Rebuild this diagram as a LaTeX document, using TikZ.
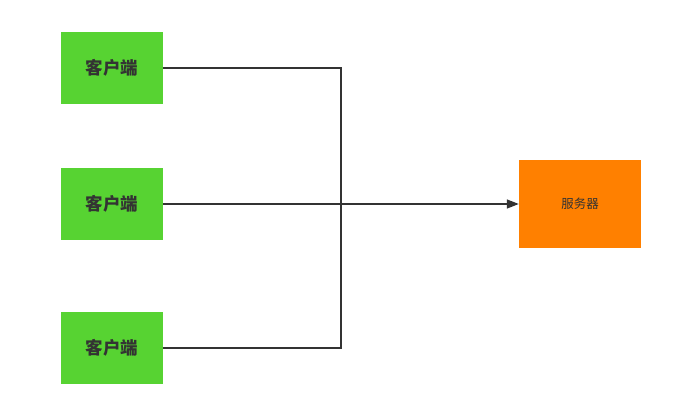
\documentclass[tikz,border=0pt]{standalone}
\usepackage{fontspec}
\newfontfamily\cjk{Noto Sans CJK SC}
\usetikzlibrary{arrows.meta}
\definecolor{cgreen}{HTML}{57D332}
\definecolor{corange}{HTML}{FF8000}
\definecolor{ctext}{HTML}{333333}
\begin{document}
\begin{tikzpicture}[x=1pt,y=-1pt,
  client/.style={fill=cgreen,draw=none,minimum width=102pt,minimum height=72pt,inner sep=0pt,font=\cjk\bfseries\fontsize{17.5}{19}\selectfont,text=ctext},
  server/.style={fill=corange,draw=none,minimum width=122pt,minimum height=88pt,inner sep=0pt,font=\cjk\fontsize{12.5}{14}\selectfont,text=ctext},
  conn/.style={draw=ctext,line width=1.5pt}]
\useasboundingbox (0,0) rectangle (689,415);
\node[client] (c1) at (112,68) {客户端};
\node[client] (c2) at (112,204) {客户端};
\node[client] (c3) at (112,348) {客户端};
\node[server] (s) at (580,204) {服务器};
\coordinate (j) at (341,204);
\draw[conn] (c1.east) -| (j);
\draw[conn] (c3.east) -| (j);
\draw[conn,-{Triangle[length=12pt,width=9pt]}] (c2.east) -- (s.west);
\end{tikzpicture}
\end{document}
